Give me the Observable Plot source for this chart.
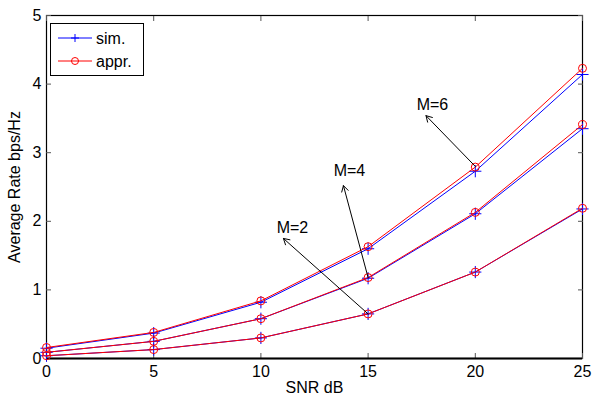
<!DOCTYPE html>
<html><head><meta charset="utf-8">
<script src="https://cdn.jsdelivr.net/npm/d3@7"></script>
<script src="https://cdn.jsdelivr.net/npm/@observablehq/plot@0.6"></script>
<style>
body{margin:0;background:#fff;}
</style>
</head><body><div id="chart"></div>
<script>
const snr = [0, 5, 10, 15, 20, 25];
const simM2 = [0.04, 0.13, 0.30, 0.65, 1.26, 2.18];
const apprM2 = [0.04, 0.13, 0.30, 0.65, 1.26, 2.19];
const simM4 = [0.09, 0.25, 0.58, 1.17, 2.11, 3.35];
const apprM4 = [0.09, 0.25, 0.58, 1.18, 2.13, 3.41];
const simM6 = [0.15, 0.37, 0.82, 1.60, 2.73, 4.14];
const apprM6 = [0.16, 0.38, 0.84, 1.63, 2.79, 4.23];
const xTicks = [0, 5, 10, 15, 20, 25];
const yTicks = [0, 1, 2, 3, 4, 5];
// arrow from (x, y) to tip (tx, ty); label centred at (lx, ly) — all in data units
const annLabels = ["M=6", "M=4", "M=2"];
const annFromX = [20, 15, 15];
const annFromY = [2.80, 1.18, 0.65];
const annTipX = [17.7, 13.85, 11.05];
const annTipY = [3.54, 2.52, 1.75];
const annLabelX = [18.0, 14.13, 11.47];
const annLabelY = [3.70, 2.74, 1.91];
const annotations = annLabels.map((label, i) => ({
  label, x: annFromX[i], y: annFromY[i], tx: annTipX[i], ty: annTipY[i], lx: annLabelX[i], ly: annLabelY[i]
}));

const rows = [];
const add = (series, type, vals) => vals.forEach((v, i) => rows.push({series, type, snr: snr[i], rate: v}));
add("M2", "sim.", simM2); add("M4", "sim.", simM4); add("M6", "sim.", simM6);
add("M2", "appr.", apprM2); add("M4", "appr.", apprM4); add("M6", "appr.", apprM6);
const sim = rows.filter(d => d.type === "sim.");
const appr = rows.filter(d => d.type === "appr.");
const FS = 16;
const fmt = d3.format("d");

const chart = Plot.plot({
  width: 592, height: 401,
  marginLeft: 46, marginRight: 10, marginTop: 15, marginBottom: 43,
  style: {fontSize: FS + "px", fontFamily: "'Liberation Sans', Arial, sans-serif", color: "#000", background: "#fff"},
  x: {domain: [0, 25]},
  y: {domain: [0, 5]},
  marks: [
    Plot.frame({stroke: "#000", strokeWidth: 1.2}),
    Plot.axisX({ticks: xTicks, tickSize: -5, tickPadding: 12, label: null, anchor: "bottom", stroke: "#555", fontSize: FS, tickFormat: fmt}),
    Plot.axisX({ticks: xTicks, tickSize: -5, anchor: "top", tickFormat: () => "", label: null, stroke: "#555"}),
    Plot.axisY({ticks: yTicks, tickSize: -5, tickPadding: 10, label: null, anchor: "left", stroke: "#555", fontSize: FS, tickFormat: fmt}),
    Plot.axisY({ticks: yTicks, tickSize: -5, anchor: "right", tickFormat: () => "", label: null, stroke: "#555"}),
    Plot.ruleY([0], {stroke: "#000", strokeWidth: 2}),
    Plot.text(["SNR dB"], {frameAnchor: "bottom", dy: 34, fontSize: FS}),
    Plot.text(["Average Rate bps/Hz"], {frameAnchor: "left", textAnchor: "middle", dx: -32, rotate: -90, fontSize: FS}),
    Plot.line(sim, {x: "snr", y: "rate", z: "series", stroke: "#0000ff", strokeWidth: 1}),
    Plot.dot(sim, {x: "snr", y: "rate", symbol: "plus", r: 4, stroke: "#0000ff", strokeWidth: 1}),
    Plot.line(appr, {x: "snr", y: "rate", z: "series", stroke: "#ff0000", strokeWidth: 1}),
    Plot.dot(appr, {x: "snr", y: "rate", symbol: "circle", r: 4, stroke: "#ff0000", strokeWidth: 1, fill: "none"}),
    Plot.arrow(annotations, {x1: "x", y1: "y", x2: "tx", y2: "ty", stroke: "#000", strokeWidth: 1, headLength: 10, insetEnd: 0}),
    Plot.text(annotations, {x: "lx", y: "ly", text: "label", fontSize: FS}),
  ]
});

// legend inside plot area (MATLAB-style box)
const svg = d3.select(chart);
const g = svg.append("g").attr("text-anchor", "start");
g.append("rect").attr("x", 50.5).attr("y", 23.5).attr("width", 93).attr("height", 52)
  .attr("fill", "#fff").attr("stroke", "#000").attr("stroke-width", 1);
const legend = [{label: "sim.", color: "#0000ff", sym: "plus"}, {label: "appr.", color: "#ff0000", sym: "circle"}];
legend.forEach((d, i) => {
  const y = 38 + i * 23;
  g.append("line").attr("x1", 58).attr("x2", 92).attr("y1", y).attr("y2", y).attr("stroke", d.color);
  if (d.sym === "plus") {
    g.append("path").attr("d", `M75,${y-4}V${y+4}M71,${y}H79`).attr("stroke", d.color).attr("fill", "none");
  } else {
    g.append("circle").attr("cx", 75).attr("cy", y).attr("r", 3.5).attr("fill", "none").attr("stroke", d.color);
  }
  g.append("text").attr("x", 96).attr("y", y).attr("dy", "0.35em").attr("font-size", FS).attr("fill", "#000").text(d.label);
});

document.getElementById("chart").appendChild(chart);
</script>
</body></html>
